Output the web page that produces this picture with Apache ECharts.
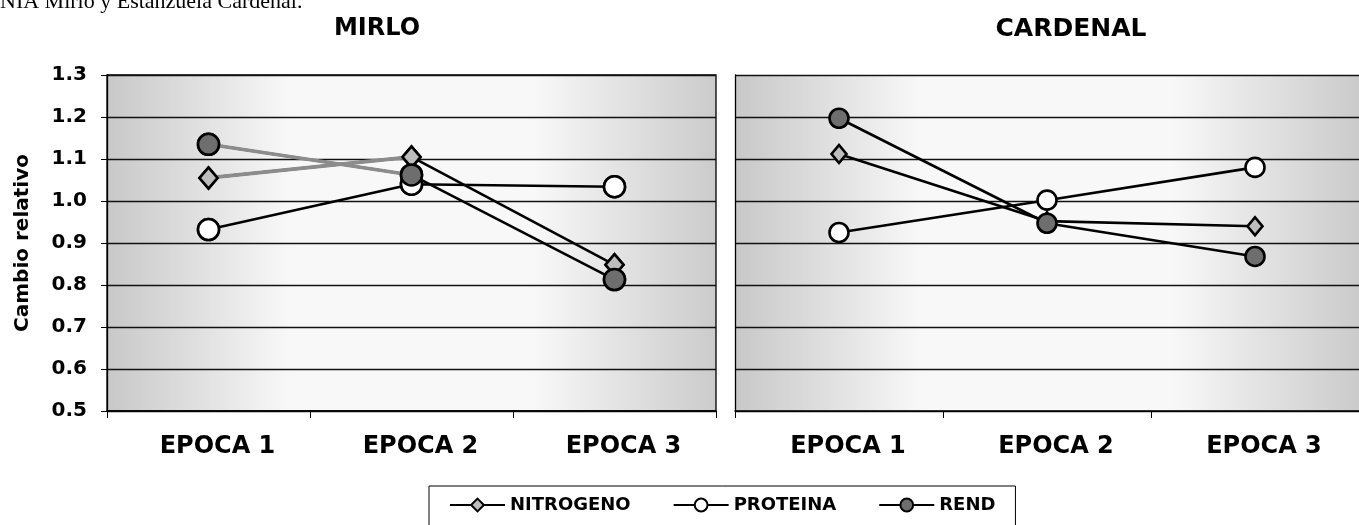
<!DOCTYPE html>
<html>
<head>
<meta charset="utf-8">
<script src="https://cdn.jsdelivr.net/npm/echarts@6/dist/echarts.min.js"></script>
<style>
html,body{margin:0;padding:0;background:#fff;}
#c{width:1359px;height:525px;}
</style>
</head>
<body>
<div id="c"></div>
<script>
// ---- data ----
const categories = ['EPOCA 1', 'EPOCA 2', 'EPOCA 3'];
const seriesNames = ['NITROGENO', 'PROTEINA', 'REND'];
const mirloNitrogeno = [1.055, 1.105, 0.848];
const mirloProteina  = [0.932, 1.040, 1.034];
const mirloRend      = [1.135, 1.062, 0.813];
const cardenalNitrogeno = [1.112, 0.952, 0.940];
const cardenalProteina  = [0.925, 1.002, 1.080];
const cardenalRend      = [1.197, 0.947, 0.868];
const yTicks = [0.5, 0.6, 0.7, 0.8, 0.9, 1.0, 1.1, 1.2, 1.3];
const panelTitles = ['MIRLO', 'CARDENAL'];

const FONT = '"DejaVu Sans", Verdana, sans-serif';
const chart = echarts.init(document.getElementById('c'));

const bg = {type:'linear', x:0, y:0, x2:1, y2:0, colorStops:[
  {offset:0, color:'#c8c8c8'}, {offset:0.3, color:'#f8f8f8'},
  {offset:0.7, color:'#f8f8f8'}, {offset:1, color:'#cbcbcb'}]};

const styles = [
  { NITROGENO: {symbol:'diamond', size:[18,21], fill:'#bdbdbd'},
    PROTEINA:  {symbol:'circle', size:21, fill:'#ffffff'},
    REND:      {symbol:'circle', size:21, fill:'#6e6e6e'} },
  { NITROGENO: {symbol:'diamond', size:[15,18], fill:'#bdbdbd'},
    PROTEINA:  {symbol:'circle', size:19, fill:'#ffffff'},
    REND:      {symbol:'circle', size:19, fill:'#6e6e6e'} }
];

function mainSeries(name, data, gi){
  const s = styles[gi][name];
  return {
    name: name, type:'line', xAxisIndex:gi, yAxisIndex:gi, data:data,
    symbol:s.symbol, symbolSize:s.size, z:2,
    lineStyle:{color:'#000', width:2.6},
    itemStyle:{color:s.fill, borderColor:'#000', borderWidth:2.6},
    emphasis:{disabled:true}, animation:false
  };
}
function grayPart(data, gi){
  return {
    type:'line', xAxisIndex:gi, yAxisIndex:gi,
    data:[data[0], data[1], '-'], symbol:'none', z:3,
    lineStyle:{color:'#8c8c8c', width:3.6},
    emphasis:{disabled:true}, animation:false, silent:true
  };
}
function symbolOverlay(name, data, gi){
  const s = styles[gi][name];
  return {
    type:'line', xAxisIndex:gi, yAxisIndex:gi, data:data,
    symbol:s.symbol, symbolSize:s.size, z:4,
    lineStyle:{opacity:0, width:0},
    itemStyle:{color:s.fill, borderColor:'#000', borderWidth:2.6},
    emphasis:{disabled:true}, animation:false, silent:true
  };
}

const series = [
  mainSeries('NITROGENO', mirloNitrogeno, 0),
  mainSeries('PROTEINA', mirloProteina, 0),
  mainSeries('REND', mirloRend, 0),
  grayPart(mirloNitrogeno, 0),
  grayPart(mirloRend, 0),
  symbolOverlay('NITROGENO', mirloNitrogeno, 0),
  symbolOverlay('PROTEINA', mirloProteina, 0),
  symbolOverlay('REND', mirloRend, 0),
  mainSeries('NITROGENO', cardenalNitrogeno, 1),
  mainSeries('PROTEINA', cardenalProteina, 1),
  mainSeries('REND', cardenalRend, 1)
];

function xAxis(gi){
  return {
    type:'category', gridIndex:gi, data:categories, boundaryGap:true,
    axisLine:{lineStyle:{color:'#000', width:1.5}},
    axisTick:{show:true, length:7, lineStyle:{color:'#000'}},
    axisLabel:{color:'#000', fontFamily:FONT, fontWeight:'bold', fontSize:24, margin:24,
      padding:[0,0,0,18]},
    splitLine:{show:false}
  };
}
function yAxis(gi){
  return {
    type:'value', gridIndex:gi, min:yTicks[0], max:yTicks[yTicks.length-1], interval:0.1,
    name: gi===0 ? 'Cambio relativo' : '', nameLocation:'middle', nameGap:74, nameRotate:90,
    nameTextStyle:{color:'#000', fontFamily:FONT, fontWeight:'bold', fontSize:20},
    axisLine:{show:true, lineStyle:{color:'#000', width:1.3}},
    axisTick:{show:gi===0, length:6, lineStyle:{color:'#000'}},
    axisLabel:{show:gi===0, color:'#000', fontFamily:FONT, fontWeight:'bold', fontSize:20, margin:20,
      formatter:v=>v.toFixed(1)},
    splitLine:{show:true, lineStyle:{color:'#111', width:1.3}}
  };
}

chart.setOption({
  animation:false,
  title:[
    {text:panelTitles[0], left:372, top:12, textAlign:'center',
     textStyle:{color:'#000', fontFamily:FONT, fontWeight:'bold', fontSize:24}},
    {text:panelTitles[1], left:1066, top:12, textAlign:'center',
     textStyle:{color:'#000', fontFamily:FONT, fontWeight:'bold', fontSize:25}}
  ],
  graphic:[{type:'text', left:0, top:-9, style:{text:'NIA Mirlo y Estanzuela Cardenal.',
    font:'22px "Liberation Serif", "Times New Roman", serif', fill:'#000'}}],
  legend:{data:seriesNames, left:429, top:486, itemWidth:55, itemHeight:16, itemGap:42,
    borderColor:'#000', borderWidth:1, padding:[10,20,14,20], selectedMode:false,
    textStyle:{color:'#000', fontFamily:FONT, fontWeight:'bold', fontSize:18}},
  grid:[
    {left:107, top:75, width:609, height:336, show:true, backgroundColor:bg, borderColor:'#000', borderWidth:1.3},
    {left:735, top:75, right:-8, height:336, show:true, backgroundColor:bg, borderWidth:0}
  ],
  xAxis:[xAxis(0), xAxis(1)],
  yAxis:[yAxis(0), yAxis(1)],
  series:series
});
</script>
</body>
</html>
